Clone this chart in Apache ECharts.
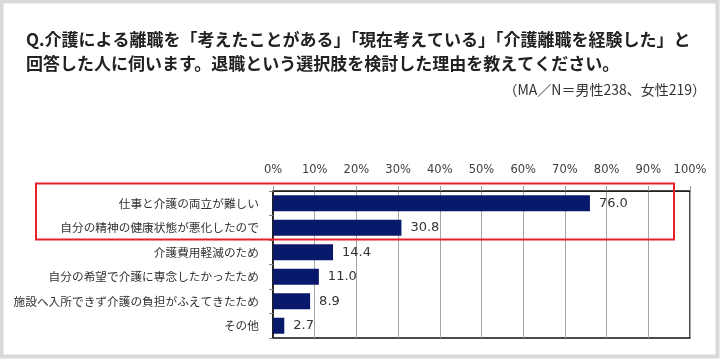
<!DOCTYPE html>
<html><head><meta charset="utf-8">
<script src="https://cdn.jsdelivr.net/npm/echarts@6/dist/echarts.min.js"></script>
<style>html,body{margin:0;padding:0;background:#fff}#c{width:720px;height:360px}</style>
</head><body><div id="c"></div>
<script>
const categories = ['仕事と介護の両立が難しい','自分の精神の健康状態が悪化したので','介護費用軽減のため','自分の希望で介護に専念したかったため','施設へ入所できず介護の負担がふえてきたため','その他'];
const values = [76.0, 30.8, 14.4, 11.0, 8.9, 2.7];
const titleLine1 = 'Q.介護による離職を「考えたことがある」「現在考えている」「介護離職を経験した」と';
const titleLine2 = '回答した人に伺います。退職という選択肢を検討した理由を教えてください。';
const subtitle = '（MA／N＝男性238、女性219）';

const chart = echarts.init(document.getElementById('c'), null, {renderer:'canvas'});
const jp = '"Noto Sans CJK JP", "Noto Sans", sans-serif';
chart.setOption({
  animation:false,
  backgroundColor:'#fff',
  grid:{left:273, right:30, top:191, height:147, show:true, borderColor:'#111', borderWidth:1.5, backgroundColor:'transparent'},
  xAxis:{type:'value', position:'top', min:0, max:100, interval:10,
    axisLine:{show:true, lineStyle:{color:'#222', width:1}},
    axisTick:{show:true, length:5, lineStyle:{color:'#999'}},
    axisLabel:{formatter:'{value}%', color:'#404040', fontFamily:'"DejaVu Sans", Verdana, sans-serif', fontSize:11.5, margin:15},
    splitLine:{show:true, lineStyle:{color:'#a6a6a6', width:1}}},
  yAxis:{type:'category', data:categories, inverse:true,
    axisLine:{show:true, lineStyle:{color:'#111', width:1.5}},
    axisTick:{show:true, length:4, lineStyle:{color:'#888'}},
    axisLabel:{color:'#333', fontFamily:jp, fontSize:11.7, margin:14}},
  series:[{type:'bar', data:values, barWidth:16, itemStyle:{color:'#08196c'},
    label:{show:true, position:'right', distance:9, color:'#333', fontFamily:'"DejaVu Sans", Verdana, sans-serif', fontSize:13,
      formatter:p=>p.value.toFixed(1)}}],
  graphic:[
    {type:'rect', shape:{x:1.5,y:1.5,width:716,height:355}, style:{fill:'none', stroke:'#d9d9d9', lineWidth:4}, z:100},
    {type:'text', left:26, top:31, style:{text:titleLine1, font:'bold 17px '+jp, fill:'#222'}},
    {type:'text', left:26, top:55, style:{text:titleLine2, font:'bold 17px '+jp, fill:'#222'}},
    {type:'text', right:14, top:83, style:{text:subtitle, font:'14px '+jp, fill:'#333'}},
    {type:'rect', shape:{x:36,y:183.5,width:638,height:56}, style:{fill:'none', stroke:'#e8202a', lineWidth:2}, z:100}
  ]
});
</script></body></html>
